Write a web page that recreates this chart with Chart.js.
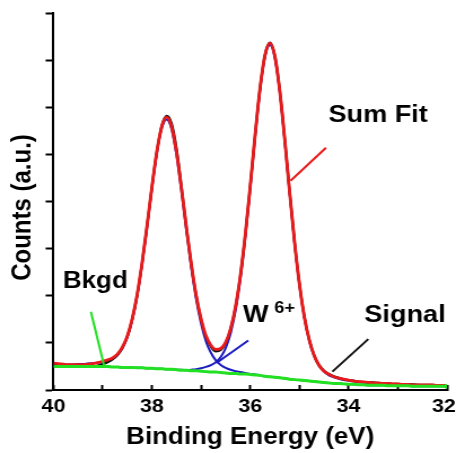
<!DOCTYPE html>
<html>
<head>
<meta charset="utf-8">
<script src="https://cdn.jsdelivr.net/npm/chart.js@4.4.1/dist/chart.umd.min.js"></script>
<style>
  html, body { margin: 0; padding: 0; background: #fff; overflow: hidden; }
  /* the reference is stretched sideways a little, so the whole canvas is too */
  #wrap { width: 404px; height: 453px; transform: scaleX(1.1287); transform-origin: 0 0; }
</style>
</head>
<body>
<div id="wrap"><canvas id="xps" width="404" height="453"></canvas></div>
<script>
// binding energy grid (eV)
const energy = [
  40.0, 39.9, 39.8, 39.7, 39.6, 39.5, 39.4, 39.3, 39.2, 39.1,
  39.0, 38.9, 38.8, 38.7, 38.6, 38.5, 38.4, 38.3, 38.2, 38.1,
  38.0, 37.9, 37.8, 37.7, 37.6, 37.5, 37.4, 37.3, 37.2, 37.1,
  37.0, 36.9, 36.8, 36.7, 36.6, 36.5, 36.4, 36.3, 36.2, 36.1,
  36.0, 35.9, 35.8, 35.7, 35.6, 35.5, 35.4, 35.3, 35.2, 35.1,
  35.0, 34.9, 34.8, 34.7, 34.6, 34.5, 34.4, 34.3, 34.2, 34.1,
  34.0, 33.9, 33.8, 33.7, 33.6, 33.5, 33.4, 33.3, 33.2, 33.1,
  33.0, 32.9, 32.8, 32.7, 32.6, 32.5, 32.4, 32.3, 32.2, 32.1, 32.0
];

// measured signal (black)
const signal = [
  0.53, 0.52, 0.51, 0.50, 0.49, 0.49, 0.49, 0.49, 0.50, 0.52,
  0.55, 0.59, 0.65, 0.74, 0.89, 1.13, 1.50, 2.01, 2.68, 3.47,
  4.30, 5.05, 5.60, 5.82, 5.66, 5.13, 4.33, 3.47, 2.68, 2.01,
  1.50, 1.13, 0.92, 0.82, 0.85, 1.00, 1.29, 1.76, 2.43, 3.30,
  4.33, 5.42, 6.41, 7.11, 7.37, 7.10, 6.37, 5.35, 4.22, 3.16,
  2.26, 1.56, 1.07, 0.74, 0.53, 0.41, 0.34, 0.29, 0.26, 0.23,
  0.21, 0.20, 0.18, 0.17, 0.16, 0.16, 0.15, 0.14, 0.14, 0.13,
  0.13, 0.12, 0.12, 0.12, 0.11, 0.11, 0.11, 0.11, 0.10, 0.10, 0.10
];

// sum fit (red)
const sumFit = [
  0.57, 0.56, 0.55, 0.54, 0.54, 0.54, 0.54, 0.55, 0.56, 0.58,
  0.61, 0.64, 0.68, 0.76, 0.91, 1.14, 1.51, 2.02, 2.69, 3.47,
  4.30, 5.05, 5.59, 5.79, 5.59, 5.05, 4.29, 3.46, 2.68, 2.01,
  1.51, 1.15, 0.95, 0.86, 0.88, 1.01, 1.30, 1.76, 2.43, 3.30,
  4.33, 5.42, 6.41, 7.11, 7.36, 7.08, 6.35, 5.33, 4.21, 3.15,
  2.25, 1.55, 1.06, 0.73, 0.52, 0.40, 0.33, 0.28, 0.25, 0.23,
  0.21, 0.19, 0.18, 0.17, 0.16, 0.15, 0.15, 0.14, 0.14, 0.13,
  0.13, 0.12, 0.12, 0.11, 0.11, 0.11, 0.11, 0.11, 0.10, 0.10, 0.10
];

// W 4f5/2 component (blue, left peak)
const compLeft = [
  0.53, 0.53, 0.53, 0.54, 0.54, 0.55, 0.55, 0.56, 0.57, 0.58,
  0.59, 0.62, 0.66, 0.74, 0.89, 1.12, 1.48, 1.99, 2.66, 3.44,
  4.27, 5.02, 5.55, 5.74, 5.54, 4.99, 4.23, 3.39, 2.60, 1.93,
  1.41, 1.03, 0.79, 0.63, 0.53, 0.47, 0.43, 0.40, 0.38, 0.36,
  0.34, 0.33, 0.31, 0.29, 0.28, 0.27, 0.26, 0.25, 0.23, 0.22,
  0.21, 0.20, 0.19, 0.18, 0.17, 0.16, 0.15, 0.14, 0.14, 0.13,
  0.12, 0.12, 0.11, 0.11, 0.10, 0.10, 0.10, 0.10, 0.09, 0.09,
  0.09, 0.09, 0.09, 0.08, 0.08, 0.08, 0.08, 0.08, 0.08, 0.08, 0.08
];

// W 4f7/2 component (blue, right peak)
const compRight = [
  0.50, 0.50, 0.50, 0.50, 0.50, 0.50, 0.50, 0.50, 0.50, 0.50,
  0.50, 0.50, 0.49, 0.49, 0.48, 0.48, 0.48, 0.47, 0.47, 0.46,
  0.46, 0.45, 0.45, 0.44, 0.44, 0.43, 0.43, 0.42, 0.43, 0.44,
  0.46, 0.49, 0.53, 0.59, 0.70, 0.89, 1.20, 1.68, 2.36, 3.24,
  4.28, 5.38, 6.37, 7.07, 7.32, 7.05, 6.32, 5.30, 4.19, 3.13,
  2.23, 1.54, 1.04, 0.71, 0.51, 0.39, 0.31, 0.27, 0.24, 0.21,
  0.20, 0.18, 0.17, 0.16, 0.15, 0.14, 0.14, 0.13, 0.13, 0.12,
  0.12, 0.12, 0.11, 0.11, 0.11, 0.10, 0.10, 0.10, 0.10, 0.10, 0.10
];

// background (green)
const bkgd = [
  0.50, 0.50, 0.50, 0.50, 0.50, 0.50, 0.50, 0.50, 0.50, 0.50,
  0.50, 0.50, 0.49, 0.49, 0.48, 0.48, 0.48, 0.47, 0.47, 0.46,
  0.46, 0.45, 0.45, 0.44, 0.44, 0.43, 0.42, 0.42, 0.41, 0.41,
  0.40, 0.39, 0.38, 0.38, 0.37, 0.36, 0.35, 0.35, 0.34, 0.34,
  0.33, 0.32, 0.31, 0.29, 0.28, 0.27, 0.26, 0.25, 0.23, 0.22,
  0.21, 0.20, 0.19, 0.18, 0.17, 0.16, 0.15, 0.14, 0.14, 0.13,
  0.12, 0.12, 0.11, 0.11, 0.10, 0.10, 0.10, 0.10, 0.09, 0.09,
  0.09, 0.09, 0.09, 0.08, 0.08, 0.08, 0.08, 0.08, 0.08, 0.08, 0.08
];

// leader lines of the labels, in data units [energy, counts]
const sumFitLeader = [[34.46, 5.14], [35.18, 4.44]];
const w6Leader = [[36.04, 1.05], [36.68, 0.58]];
const bkgdLeader = [[39.24, 1.66], [38.97, 0.51]];
const signalLeader = [[33.60, 1.08], [34.33, 0.39]];

// label anchors (left end, baseline), in data units
const labels = [
  { text: 'Sum Fit', x: 34.41, y: 5.69, size: 24 },
  { text: 'W', x: 36.15, y: 1.45, size: 24 },
  { text: '6+', x: 35.51, y: 1.63, size: 16 },
  { text: 'Bkgd', x: 39.81, y: 2.16, size: 23 },
  { text: 'Signal', x: 33.68, y: 1.45, size: 24 }
];

const xTicks = [40, 38, 36, 34, 32];
const yTitle = 'Counts (a.u.)';
const FONT = "'Liberation Sans', Arial, sans-serif";

function pts(ys) {
  return energy.map((e, i) => ({ x: e, y: ys[i] }));
}
function seg(p) {
  return p.map(q => ({ x: q[0], y: q[1] }));
}

function curve(data, color, width, order) {
  return {
    data: data,
    borderColor: color,
    borderWidth: width,
    pointRadius: 0,
    fill: false,
    cubicInterpolationMode: 'monotone',
    order: order
  };
}

function leader(p, color) {
  return {
    data: seg(p),
    borderColor: color,
    borderWidth: 2,
    pointRadius: 0,
    tension: 0,
    order: 0
  };
}

// text labels drawn on the chart at data positions, plus the y title
const labelPlugin = {
  id: 'labels',
  afterDraw(chart) {
    const ctx = chart.ctx;
    const sx = chart.scales.x, sy = chart.scales.y;
    ctx.save();
    ctx.fillStyle = '#000';
    ctx.textBaseline = 'alphabetic';
    ctx.textAlign = 'left';
    labels.forEach(l => {
      ctx.font = 'bold ' + l.size + 'px ' + FONT;
      ctx.fillText(l.text, sx.getPixelForValue(l.x), sy.getPixelForValue(l.y));
    });
    // y title sits a bit below the middle of the axis in the reference
    ctx.font = 'bold 24px ' + FONT;
    ctx.textAlign = 'center';
    ctx.textBaseline = 'middle';
    ctx.translate(20.5, (chart.chartArea.top + chart.chartArea.bottom) / 2 + 6);
    ctx.rotate(-Math.PI / 2);
    ctx.fillText(yTitle, 0, 0);
    ctx.restore();
  }
};

const bkgdData = pts(bkgd);
const bkgdSet = curve(bkgdData, '#22e022', 3, 1);
bkgdSet.pointRadius = c => (c.dataIndex === bkgdData.length - 1 ? 2.5 : 0);
bkgdSet.pointBackgroundColor = '#22e022';
bkgdSet.pointBorderWidth = 0;

new Chart(document.getElementById('xps'), {
  type: 'line',
  data: {
    datasets: [
      curve(pts(compLeft), '#1b1bc0', 2, 5),
      curve(pts(compRight), '#1b1bc0', 2, 5),
      curve(pts(signal), '#111111', 2.2, 4),
      curve(pts(sumFit), '#e81a1a', 2.8, 3),
      bkgdSet,
      leader(sumFitLeader, '#e81a1a'),
      leader(w6Leader, '#1b1bc0'),
      leader(bkgdLeader, '#22e022'),
      leader(signalLeader, '#111111')
    ]
  },
  options: {
    responsive: false,
    animation: false,
    events: [],
    layout: { padding: { top: 13, right: 8, bottom: 0, left: 0 } },
    plugins: { legend: { display: false }, tooltip: { enabled: false } },
    scales: {
      x: {
        type: 'linear',
        reverse: true,
        min: 32,
        max: 40,
        afterFit(s) { s.height = 63; s.paddingLeft = 0; s.paddingRight = 0; },
        ticks: {
          stepSize: 1,
          autoSkip: false,
          maxRotation: 0,
          padding: 10,
          color: '#000',
          font: { family: FONT, size: 19, weight: 'bold' },
          // the last label is pushed in a little so it is not cut off
          callback: v => (v === 32 ? '32 ' : xTicks.includes(v) ? String(v) : '')
        },
        grid: { drawOnChartArea: false, tickLength: -5, tickWidth: 2, tickColor: '#000' },
        border: { color: '#000', width: 2 },
        title: {
          display: true,
          text: 'Binding Energy (eV)',
          color: '#000',
          font: { family: FONT, size: 23, weight: 'bold', lineHeight: 1.2 },
          padding: { top: 0, bottom: 2 }
        }
      },
      y: {
        min: 0,
        max: 8,
        afterFit(s) { s.width = 47.4; s.paddingTop = 0; s.paddingBottom = 0; },
        ticks: { stepSize: 1, callback: () => '' },
        grid: { drawOnChartArea: false, tickLength: 7, tickWidth: 2, tickColor: '#000' },
        border: { color: '#000', width: 2 },
        title: { display: false }
      }
    }
  },
  plugins: [labelPlugin]
});
</script>
</body>
</html>
